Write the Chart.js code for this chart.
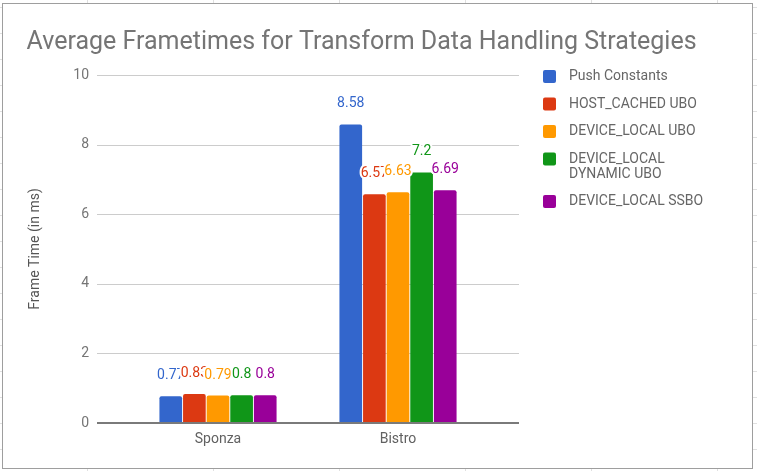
<!DOCTYPE html>
<html>
<head>
<meta charset="utf-8">
<script src="https://cdn.jsdelivr.net/npm/chart.js@4.4.1/dist/chart.umd.min.js"></script>
<style>
  html, body { margin: 0; padding: 0; }
  body {
    width: 757px; height: 471px; overflow: hidden; position: relative; background: #fff;
    background-image: linear-gradient(to right, #e0e0e0 1px, transparent 1px),
                      linear-gradient(to bottom, #e0e0e0 1px, transparent 1px);
    background-size: 126px 100%, 100% 26px;
    background-position: 87px 0, 0 7px;
  }
  #frame { position: absolute; left: 2px; top: 3px; width: 749px; height: 464px;
           border: 1px solid #9e9e9e; background: #fff; }
  canvas { display: block; }
</style>
</head>
<body>
<div id="frame"><canvas id="chart" width="749" height="464"></canvas></div>
<script>
const categories = ['Sponza', 'Bistro'];
const seriesNames = ['Push Constants', 'HOST_CACHED UBO', 'DEVICE_LOCAL UBO', 'DEVICE_LOCAL\nDYNAMIC UBO', 'DEVICE_LOCAL SSBO'];
const pushConstants         = [0.77, 8.58];
const hostCachedUbo         = [0.83, 6.57];
const deviceLocalUbo        = [0.79, 6.63];
const deviceLocalDynamicUbo = [0.8, 7.2];
const deviceLocalSsbo       = [0.8, 6.69];
const yTicks = [0, 2, 4, 6, 8, 10];
const colors = ['#3366cc', '#dc3912', '#ff9900', '#109618', '#990099'];

const FONT = 'Roboto';
const seriesValues = [pushConstants, hostCachedUbo, deviceLocalUbo, deviceLocalDynamicUbo, deviceLocalSsbo];

/* ------------ extras: grid, value labels, title, legend ------------ */
const extras = {
  id: 'extras',
  beforeDatasetsDraw(chart) {
    const { ctx, chartArea: a, scales: { y } } = chart;
    const x0 = a.left - 31, x1 = a.right + 31;
    ctx.save();
    ctx.strokeStyle = '#cccccc';
    ctx.lineWidth = 1;
    y.ticks.forEach(t => {
      if (t.value === 0) return;
      const py = Math.round(y.getPixelForValue(t.value)) + 0.5;
      ctx.beginPath(); ctx.moveTo(x0, py); ctx.lineTo(x1, py); ctx.stroke();
    });
    ctx.restore();
  },
  afterDatasetsDraw(chart) {
    const { ctx, chartArea: a, scales: { y } } = chart;
    // zero axis line
    ctx.save();
    ctx.strokeStyle = '#7a7a7a';
    ctx.lineWidth = 2;
    const py = Math.round(y.getPixelForValue(0));
    ctx.beginPath(); ctx.moveTo(a.left - 31, py); ctx.lineTo(a.right + 31, py); ctx.stroke();

    // value labels with white halo, drawn in series order
    ctx.font = `14px ${FONT}`;
    ctx.textAlign = 'center';
    ctx.textBaseline = 'alphabetic';
    ctx.lineJoin = 'round';
    categories.forEach((_, j) => {
      chart.data.datasets.forEach((ds, i) => {
        const bar = chart.getDatasetMeta(i).data[j];
        const txt = String(ds.data[j]);
        ctx.strokeStyle = '#fff';
        ctx.lineWidth = 4;
        ctx.strokeText(txt, bar.x, bar.y - 17);
        ctx.fillStyle = ds.backgroundColor;
        ctx.fillText(txt, bar.x, bar.y - 17);
      });
    });
    ctx.restore();
  },
  afterDraw(chart) {
    const { ctx, chartArea: a } = chart;
    ctx.save();
    // title
    ctx.font = `25px ${FONT}`;
    ctx.fillStyle = '#757575';
    ctx.textAlign = 'left';
    ctx.textBaseline = 'alphabetic';
    ctx.fillText('Average Frametimes for Transform Data Handling Strategies', 23.5, 45);

    // legend
    ctx.font = `14px ${FONT}`;
    ctx.textBaseline = 'middle';
    let cy = a.top + 1.5;
    chart.data.datasets.forEach(ds => {
      const lines = ds.label.split('\n');
      ctx.fillStyle = ds.backgroundColor;
      ctx.beginPath();
      ctx.roundRect(540, cy - 6.5, 13, 13, 2);
      ctx.fill();
      ctx.fillStyle = '#666';
      lines.forEach((ln, k) => ctx.fillText(ln, 566, cy + k * 15));
      cy += 27.5 + (lines.length - 1) * 15;
    });
    ctx.restore();
  }
};

new Chart(document.getElementById('chart'), {
  type: 'bar',
  data: {
    labels: categories,
    datasets: seriesNames.map((name, i) => ({
      label: name,
      data: seriesValues[i],
      backgroundColor: colors[i],
      borderWidth: 0,
      borderRadius: { topLeft: 2, topRight: 2 },
      borderSkipped: 'start',
      categoryPercentage: 0.656,
      barPercentage: 0.96
    }))
  },
  options: {
    responsive: false,
    animation: false,
    layout: { padding: { top: 71, right: 264, bottom: 0, left: 0 } },
    plugins: { legend: { display: false }, title: { display: false }, tooltip: { enabled: false } },
    scales: {
      x: {
        grid: { display: false, drawTicks: false },
        border: { display: false },
        ticks: { color: '#616161', font: { family: FONT, size: 14 }, padding: 8 },
        afterFit: s => { s.height = 45; }
      },
      y: {
        min: 0, max: 10,
        afterBuildTicks: s => { s.ticks = yTicks.map(v => ({ value: v })); },
        grid: { display: false, drawTicks: false },
        border: { display: false },
        ticks: { color: '#757575', font: { family: FONT, size: 14 }, padding: 39 },
        title: { display: true, text: 'Frame Time (in ms)', color: '#555', font: { family: FONT, size: 14 }, padding: { top: 24, bottom: 0 } },
        // tick padding is only horizontal spacing here, keep it out of the vertical padding
        afterFit: s => { s.width = 125; s.paddingTop = 8; s.paddingBottom = 8; }
      }
    }
  },
  plugins: [extras]
});
</script>
</body>
</html>
